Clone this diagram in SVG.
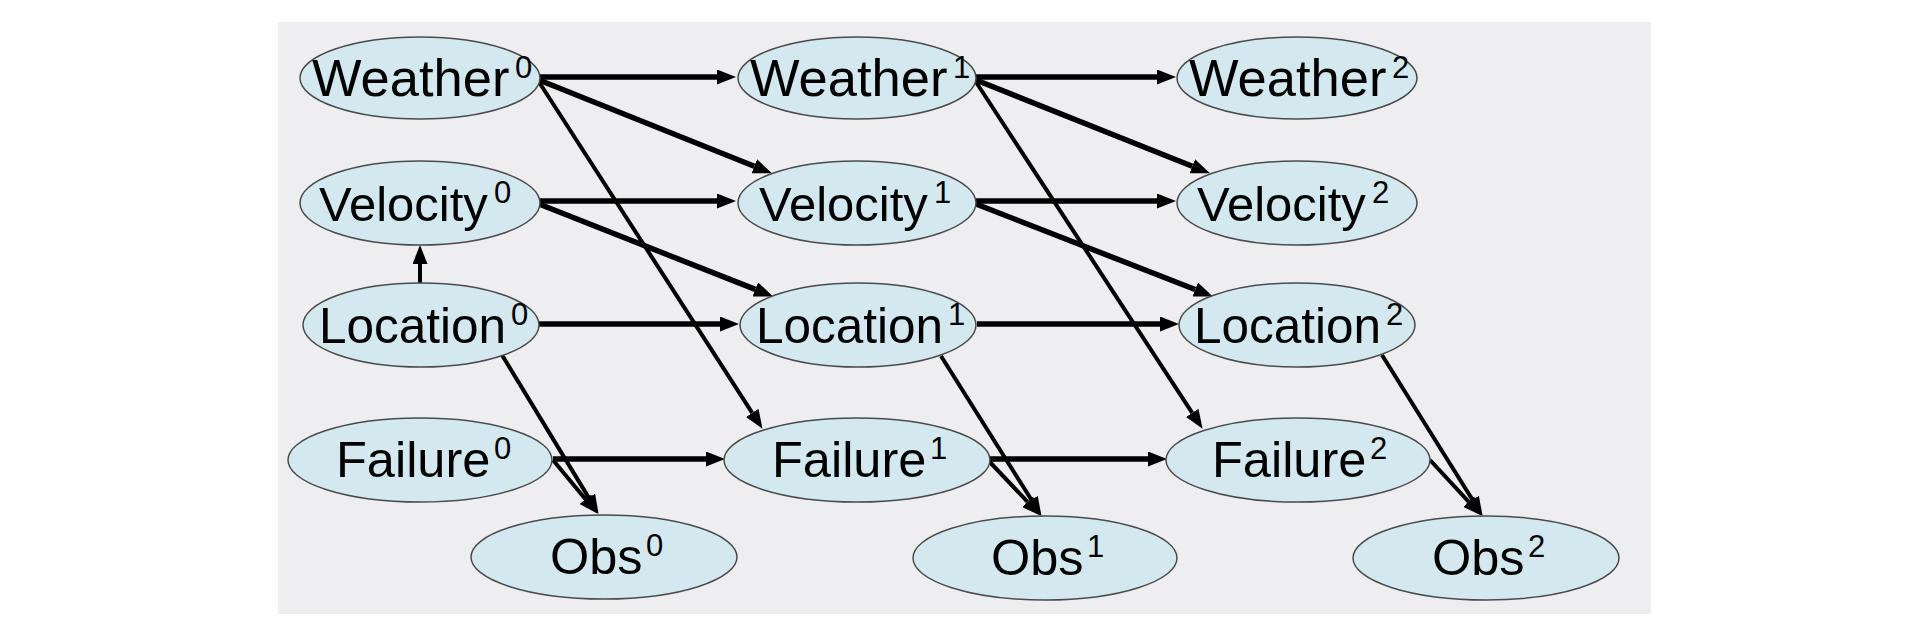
<svg xmlns="http://www.w3.org/2000/svg" width="1922" height="626" viewBox="0 0 1922 626">
<style>
.node ellipse{fill:#d3e9ef;stroke:#4a4a4a;stroke-width:1.5}
.node text{font-family:"Liberation Sans","DejaVu Sans",sans-serif;font-size:50px;fill:#000}
.node text.w{font-size:52.5px}
.node text.v{font-size:49px}
.node text.l{font-size:49.5px}
.node text.f{font-size:50.5px}
.node text.o{font-size:50.5px}
.node text.s{font-size:31px}
.thick{stroke:#000;stroke-width:5.5;fill:none}
.thin{stroke:#000;stroke-width:4;fill:none}
</style>
<defs>
<marker id="ah" markerUnits="userSpaceOnUse" markerWidth="19" markerHeight="15" refX="0" refY="7.5" orient="auto">
<path d="M0,0 L19,7.5 L0,15 z" fill="#000"/>
</marker>
</defs>
<rect x="0" y="0" width="1922" height="626" fill="#ffffff"/>
<rect x="278" y="22" width="1373" height="592" fill="#eeeef0"/>
<g id="connectors">
<line class="thick" x1="539" y1="77" x2="717" y2="77" marker-end="url(#ah)"/>
<line class="thick" x1="976" y1="77" x2="1157" y2="77" marker-end="url(#ah)"/>
<line class="thick" x1="539" y1="201" x2="717" y2="201" marker-end="url(#ah)"/>
<line class="thick" x1="976" y1="201" x2="1157" y2="201" marker-end="url(#ah)"/>
<line class="thick" x1="538" y1="324" x2="720" y2="324" marker-end="url(#ah)"/>
<line class="thick" x1="977" y1="324" x2="1160" y2="324" marker-end="url(#ah)"/>
<line class="thick" x1="553" y1="459" x2="706" y2="459" marker-end="url(#ah)"/>
<line class="thick" x1="989" y1="459" x2="1148" y2="459" marker-end="url(#ah)"/>
<line class="thick" x1="539" y1="80" x2="754.3" y2="166.3" marker-end="url(#ah)"/>
<line class="thin" x1="539" y1="82" x2="752.2" y2="412.9" marker-end="url(#ah)"/>
<line class="thick" x1="539" y1="204" x2="755.3" y2="289.4" marker-end="url(#ah)"/>
<line class="thin" x1="420" y1="283" x2="420" y2="264" marker-end="url(#ah)"/>
<line class="thin" x1="502" y1="355" x2="588.7" y2="497.6" marker-end="url(#ah)"/>
<line class="thin" x1="553" y1="460" x2="585.5" y2="499.2" marker-end="url(#ah)"/>
<line class="thick" x1="976" y1="80" x2="1192.3" y2="166.3" marker-end="url(#ah)"/>
<line class="thin" x1="976" y1="82" x2="1192.2" y2="412.9" marker-end="url(#ah)"/>
<line class="thick" x1="976" y1="204" x2="1195.2" y2="289.5" marker-end="url(#ah)"/>
<line class="thin" x1="941" y1="356" x2="1031.4" y2="499.8" marker-end="url(#ah)"/>
<line class="thin" x1="986" y1="458" x2="1027.6" y2="501.9" marker-end="url(#ah)"/>
<line class="thin" x1="1382" y1="355" x2="1472.5" y2="499.7" marker-end="url(#ah)"/>
<line class="thin" x1="1430" y1="460" x2="1468.8" y2="501.8" marker-end="url(#ah)"/>
</g>
<g id="weather0" class="node"><ellipse cx="420" cy="78" rx="120" ry="41"/><text class="w" x="312" y="96">Weather</text><text class="s" x="515" y="78">0</text></g>
<g id="weather1" class="node"><ellipse cx="857" cy="78" rx="119" ry="41"/><text class="w" x="750" y="96">Weather</text><text class="s" x="953" y="78">1</text></g>
<g id="weather2" class="node"><ellipse cx="1297" cy="78" rx="120" ry="41"/><text class="w" x="1189" y="96">Weather</text><text class="s" x="1392" y="78">2</text></g>
<g id="velocity0" class="node"><ellipse cx="420" cy="203" rx="120" ry="42"/><text class="v" x="319" y="221">Velocity</text><text class="s" x="494" y="203">0</text></g>
<g id="velocity1" class="node"><ellipse cx="857" cy="203" rx="119" ry="42"/><text class="v" x="759" y="221">Velocity</text><text class="s" x="934" y="203">1</text></g>
<g id="velocity2" class="node"><ellipse cx="1297" cy="203" rx="120" ry="42"/><text class="v" x="1197" y="221">Velocity</text><text class="s" x="1372" y="203">2</text></g>
<g id="location0" class="node"><ellipse cx="421" cy="325" rx="118" ry="42"/><text class="l" x="319" y="343">Location</text><text class="s" x="511" y="325">0</text></g>
<g id="location1" class="node"><ellipse cx="858" cy="325" rx="118" ry="42"/><text class="l" x="756" y="343">Location</text><text class="s" x="948" y="325">1</text></g>
<g id="location2" class="node"><ellipse cx="1297" cy="325" rx="118" ry="42"/><text class="l" x="1194" y="343">Location</text><text class="s" x="1386" y="325">2</text></g>
<g id="failure0" class="node"><ellipse cx="420" cy="460" rx="132" ry="42"/><text class="f" x="336" y="477">Failure</text><text class="s" x="494" y="459">0</text></g>
<g id="failure1" class="node"><ellipse cx="857" cy="460" rx="133" ry="42"/><text class="f" x="772" y="477">Failure</text><text class="s" x="930" y="459">1</text></g>
<g id="failure2" class="node"><ellipse cx="1298" cy="460" rx="132" ry="42"/><text class="f" x="1212" y="477">Failure</text><text class="s" x="1370" y="459">2</text></g>
<g id="obs0" class="node"><ellipse cx="604" cy="557" rx="133" ry="42"/><text class="o" x="550" y="574">Obs</text><text class="s" x="646" y="556">0</text></g>
<g id="obs1" class="node"><ellipse cx="1045" cy="558" rx="132" ry="42"/><text class="o" x="991" y="575">Obs</text><text class="s" x="1087" y="557">1</text></g>
<g id="obs2" class="node"><ellipse cx="1486" cy="558" rx="133" ry="42"/><text class="o" x="1432" y="575">Obs</text><text class="s" x="1528" y="557">2</text></g>
</svg>
